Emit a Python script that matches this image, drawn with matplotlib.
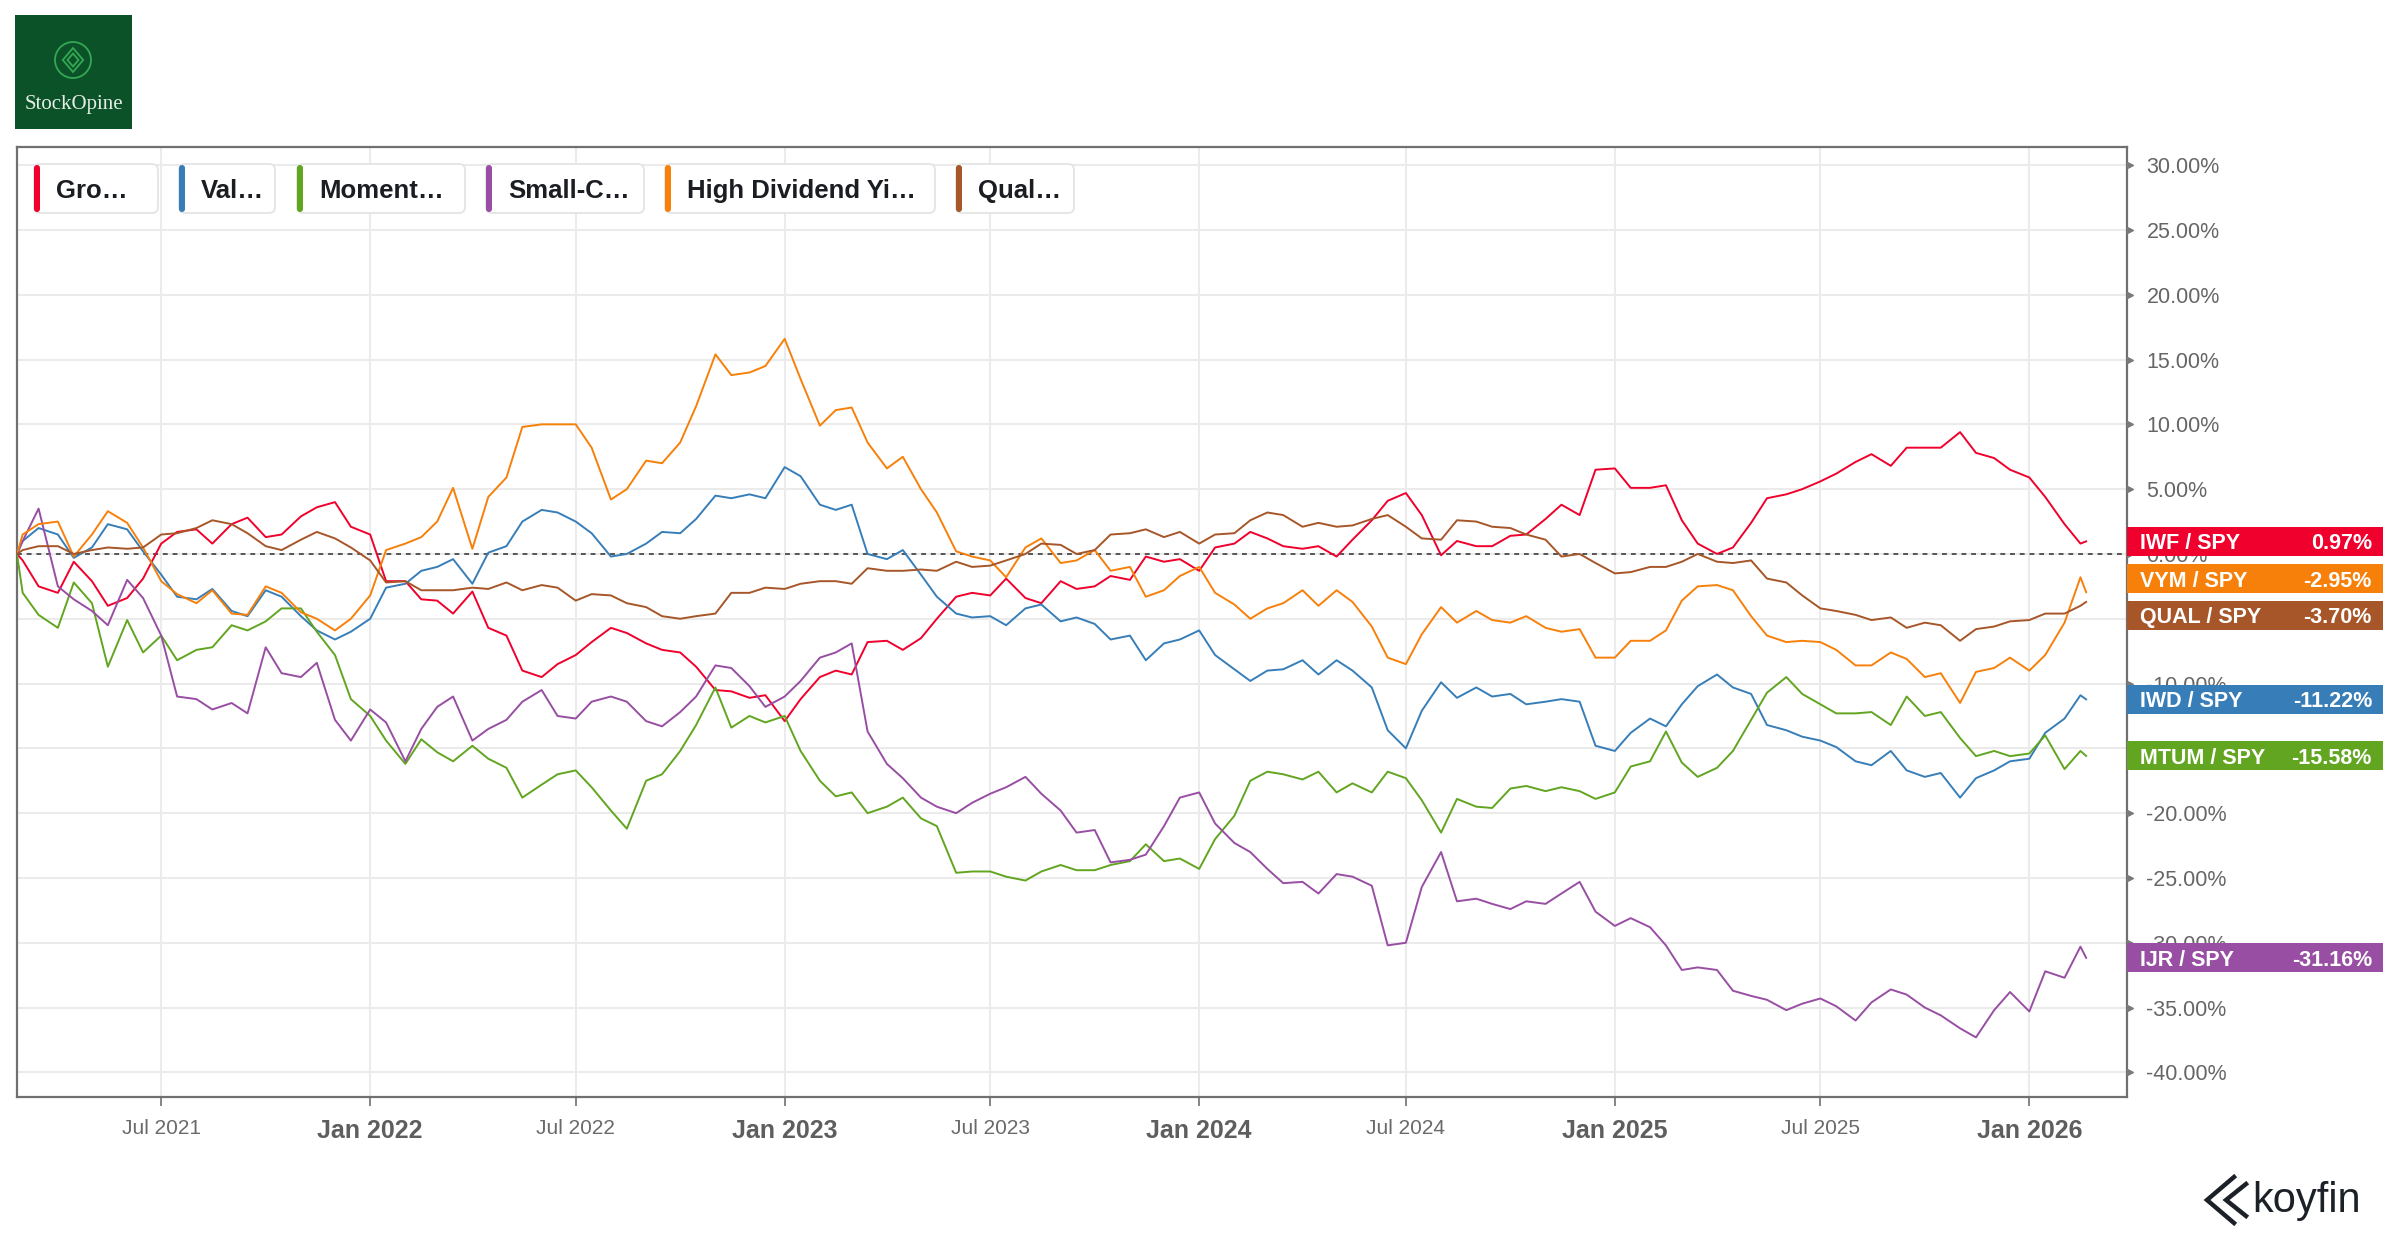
import matplotlib
matplotlib.use('Agg')
import matplotlib.pyplot as plt
from matplotlib.patches import Rectangle, FancyBboxPatch, Circle, Polygon
from matplotlib.lines import Line2D
from matplotlib.transforms import blended_transform_factory, IdentityTransform
import numpy as np
import pandas as pd

plt.rcParams['font.family'] = ['Liberation Sans', 'DejaVu Sans']

W, H = 2400, 1240

# sample dates: start of chart, then 1st / 15th of each month, then last close
dates = pd.to_datetime(['2021-02-24']
                       + list(pd.date_range('2021-03-01', '2026-02-15', freq='SMS').strftime('%Y-%m-%d'))
                       + ['2026-02-20'])

# relative performance vs SPY, % (one row per year)
growth = [0.0, -0.5, -2.5, -3.0, -0.6, -2.1, -4.0, -3.4, -1.9, 0.8, 1.7, 1.9, 0.8, 2.3, 2.8, 1.3, 1.5, 2.9, 3.6, 4.0, 2.1,
          1.5, -2.1, -2.1, -3.5, -3.6, -4.6, -2.9, -5.7, -6.3, -9.0, -9.5, -8.5, -7.8, -6.8, -5.7, -6.1, -6.9, -7.4, -7.6, -8.7, -10.5, -10.6, -11.1, -10.9,
          -12.9, -11.2, -9.5, -9.0, -9.3, -6.8, -6.7, -7.4, -6.5, -5.0, -3.3, -3.0, -3.2, -1.9, -3.4, -3.8, -2.1, -2.7, -2.5, -1.7, -2.0, -0.2, -0.6, -0.4,
          -1.3, 0.5, 0.8, 1.7, 1.2, 0.6, 0.4, 0.6, -0.2, 1.1, 2.6, 4.1, 4.7, 3.0, -0.1, 1.0, 0.6, 0.6, 1.4, 1.5, 2.7, 3.8, 3.0, 6.5,
          6.6, 5.1, 5.1, 5.3, 2.6, 0.8, 0.0, 0.5, 2.4, 4.3, 4.6, 5.0, 5.6, 6.2, 7.1, 7.7, 6.8, 8.2, 8.2, 8.2, 9.4, 7.8, 7.4, 6.5,
          5.9, 4.4, 2.3, 0.8, 0.97]
value = [0.0, 1.0, 2.0, 1.5, -0.3, 0.5, 2.3, 1.9, 0.2, -1.6, -3.3, -3.5, -2.7, -4.4, -4.8, -2.8, -3.3, -4.8, -5.9, -6.6, -6.0,
         -5.0, -2.6, -2.3, -1.3, -1.0, -0.4, -2.3, 0.1, 0.6, 2.5, 3.4, 3.2, 2.5, 1.6, -0.2, 0.0, 0.8, 1.7, 1.6, 2.7, 4.5, 4.3, 4.6, 4.3,
         6.7, 6.0, 3.8, 3.4, 3.8, 0.0, -0.4, 0.3, -1.6, -3.3, -4.6, -4.9, -4.8, -5.5, -4.2, -3.9, -5.2, -4.9, -5.4, -6.6, -6.3, -8.2, -6.9, -6.6,
         -5.9, -7.8, -8.9, -9.8, -9.0, -8.9, -8.2, -9.3, -8.2, -9.0, -10.3, -13.6, -15.0, -12.1, -9.9, -11.1, -10.3, -11.0, -10.8, -11.6, -11.4, -11.2, -11.4, -14.8,
         -15.2, -13.8, -12.7, -13.3, -11.6, -10.2, -9.3, -10.3, -10.8, -13.2, -13.6, -14.1, -14.4, -14.9, -16.0, -16.3, -15.2, -16.7, -17.2, -16.9, -18.8, -17.3, -16.7, -16.0,
         -15.8, -13.8, -12.7, -10.9, -11.22]
momentum = [0.0, -3.0, -4.7, -5.7, -2.2, -3.8, -8.7, -5.1, -7.6, -6.3, -8.2, -7.4, -7.2, -5.5, -5.9, -5.2, -4.2, -4.2, -6.0, -7.8, -11.2,
            -12.5, -14.4, -16.2, -14.3, -15.3, -16.0, -14.8, -15.8, -16.5, -18.8, -17.8, -17.0, -16.7, -18.0, -19.8, -21.2, -17.5, -17.0, -15.2, -13.2, -10.3, -13.4, -12.5, -13.0,
            -12.5, -15.2, -17.5, -18.7, -18.4, -20.0, -19.5, -18.8, -20.4, -21.0, -24.6, -24.5, -24.5, -24.9, -25.2, -24.5, -24.0, -24.4, -24.4, -24.0, -23.7, -22.4, -23.7, -23.5,
            -24.3, -22.0, -20.2, -17.5, -16.8, -17.0, -17.4, -16.8, -18.4, -17.7, -18.4, -16.8, -17.3, -19.0, -21.5, -18.9, -19.5, -19.6, -18.1, -17.9, -18.3, -18.0, -18.3, -18.9,
            -18.4, -16.4, -16.0, -13.7, -16.1, -17.2, -16.5, -15.2, -12.8, -10.7, -9.5, -10.8, -11.6, -12.3, -12.3, -12.2, -13.2, -11.0, -12.5, -12.2, -14.2, -15.6, -15.2, -15.6,
            -15.4, -14.0, -16.6, -15.2, -15.58]
small_cap = [0.0, 1.0, 3.5, -2.5, -3.5, -4.4, -5.5, -2.0, -3.4, -6.3, -11.0, -11.2, -12.0, -11.5, -12.3, -7.2, -9.2, -9.5, -8.4, -12.8, -14.4,
             -12.0, -13.0, -16.0, -13.5, -11.8, -11.0, -14.4, -13.5, -12.8, -11.4, -10.5, -12.5, -12.7, -11.4, -11.0, -11.4, -12.9, -13.3, -12.2, -11.0, -8.6, -8.8, -10.2, -11.8,
             -11.0, -9.8, -8.0, -7.6, -6.9, -13.7, -16.2, -17.3, -18.8, -19.5, -20.0, -19.2, -18.5, -18.0, -17.2, -18.5, -19.8, -21.5, -21.3, -23.8, -23.6, -23.2, -21.0, -18.8,
             -18.4, -20.8, -22.3, -23.0, -24.3, -25.4, -25.3, -26.2, -24.7, -24.9, -25.6, -30.2, -30.0, -25.7, -23.0, -26.8, -26.6, -27.0, -27.4, -26.8, -27.0, -26.2, -25.3, -27.6,
             -28.7, -28.1, -28.8, -30.2, -32.1, -31.9, -32.1, -33.7, -34.1, -34.4, -35.2, -34.7, -34.3, -34.9, -36.0, -34.6, -33.6, -34.0, -35.0, -35.6, -36.6, -37.3, -35.2, -33.8,
             -35.3, -32.2, -32.7, -30.3, -31.16]
high_div = [0.0, 1.5, 2.3, 2.5, -0.2, 1.5, 3.3, 2.4, 0.5, -2.1, -3.1, -3.8, -2.8, -4.6, -4.7, -2.5, -3.0, -4.5, -5.0, -5.9, -5.0,
            -3.2, 0.3, 0.8, 1.3, 2.5, 5.1, 0.4, 4.4, 5.9, 9.8, 10.0, 10.0, 10.0, 8.2, 4.2, 5.0, 7.2, 7.0, 8.6, 11.4, 15.4, 13.8, 14.0, 14.5,
            16.6, 13.5, 9.9, 11.1, 11.3, 8.6, 6.6, 7.5, 5.0, 3.2, 0.2, -0.2, -0.5, -1.8, 0.5, 1.2, -0.7, -0.5, 0.3, -1.3, -1.0, -3.3, -2.8, -1.7,
            -1.0, -3.0, -3.9, -5.0, -4.2, -3.8, -2.8, -4.0, -2.8, -3.7, -5.6, -8.0, -8.5, -6.2, -4.1, -5.3, -4.4, -5.1, -5.3, -4.8, -5.7, -6.0, -5.8, -8.0,
            -8.0, -6.7, -6.7, -5.9, -3.6, -2.5, -2.4, -2.8, -4.8, -6.3, -6.8, -6.7, -6.8, -7.4, -8.6, -8.6, -7.6, -8.1, -9.5, -9.2, -11.5, -9.1, -8.8, -8.0,
            -9.0, -7.8, -5.3, -1.8, -2.95]
quality = [0.0, 0.3, 0.6, 0.6, 0.0, 0.3, 0.5, 0.4, 0.5, 1.5, 1.6, 2.0, 2.6, 2.3, 1.6, 0.6, 0.3, 1.1, 1.7, 1.2, 0.5,
           -0.5, -2.2, -2.1, -2.8, -2.8, -2.8, -2.6, -2.7, -2.2, -2.8, -2.4, -2.6, -3.6, -3.1, -3.2, -3.8, -4.1, -4.8, -5.0, -4.8, -4.6, -3.0, -3.0, -2.6,
           -2.7, -2.3, -2.1, -2.1, -2.3, -1.1, -1.3, -1.3, -1.2, -1.3, -0.6, -1.0, -0.9, -0.5, 0.0, 0.8, 0.7, 0.0, 0.3, 1.5, 1.6, 1.9, 1.3, 1.7,
           0.8, 1.5, 1.6, 2.6, 3.2, 3.0, 2.1, 2.4, 2.1, 2.2, 2.7, 3.0, 2.1, 1.2, 1.1, 2.6, 2.5, 2.1, 2.0, 1.5, 1.1, -0.2, 0.0, -0.7,
           -1.5, -1.4, -1.0, -1.0, -0.6, 0.0, -0.6, -0.7, -0.5, -1.9, -2.2, -3.2, -4.2, -4.4, -4.7, -5.1, -4.9, -5.7, -5.3, -5.5, -6.7, -5.8, -5.6, -5.2,
           -5.1, -4.6, -4.6, -4.0, -3.70]

series = [growth, value, momentum, small_cap, high_div, quality]
tickers = ['IWF', 'IWD', 'MTUM', 'IJR', 'VYM', 'QUAL']
legend_labels = ['Gro\u2026', 'Val\u2026', 'Moment\u2026', 'Small-C\u2026', 'High Dividend Yi\u2026', 'Qual\u2026']
colors = ['#f0002c', '#377eb8', '#62a520', '#984ea3', '#f7800a', '#a65628']

y_ticks = list(range(-40, 31, 5))
x_ticks = ['2021-07-01', '2022-01-01', '2022-07-01', '2023-01-01', '2023-07-01',
           '2024-01-01', '2024-07-01', '2025-01-01', '2025-07-01', '2026-01-01']
x_tick_labels = ['Jul 2021', 'Jan 2022', 'Jul 2022', 'Jan 2023', 'Jul 2023',
                 'Jan 2024', 'Jul 2024', 'Jan 2025', 'Jul 2025', 'Jan 2026']


def spread(vals, gap):
    # push end labels apart: overlapping neighbours are grouped and centred on their mean
    order = sorted(range(len(vals)), key=lambda i: -vals[i])
    groups = [[i] for i in order]

    def layout(g):
        c = np.mean([vals[i] for i in g])
        n = len(g)
        return [c + gap * ((n - 1) / 2 - k) for k in range(n)]

    merged = True
    while merged:
        merged = False
        for a in range(len(groups) - 1):
            if layout(groups[a])[-1] - layout(groups[a + 1])[0] < gap:
                groups[a] = groups[a] + groups[a + 1]
                del groups[a + 1]
                merged = True
                break
    pos = {}
    for g in groups:
        for i, p in zip(g, layout(g)):
            pos[i] = p
    return [pos[i] for i in range(len(vals))]


fig = plt.figure(figsize=(W / 100, H / 100), dpi=100)
fig.patch.set_facecolor('white')
ax = fig.add_axes([17 / W, 1 - 1097 / H, (2127 - 17) / W, (1097 - 147) / H])

for vals, col in zip(series, colors):
    ax.plot(dates, vals, color=col, lw=1.4, zorder=3)

ax.axhline(0, color='#555555', lw=1.4, ls=(0, (2.5, 2.5)), zorder=2)

ax.set_xlim(pd.Timestamp('2021-02-24'), pd.Timestamp('2026-03-28'))
ax.set_ylim(-41.9, 31.4)

ax.set_xticks(pd.to_datetime(x_ticks))
ax.set_xticklabels(x_tick_labels)
ax.set_yticks(y_ticks)
ax.set_yticklabels([f'{v:.2f}%' for v in y_ticks])
ax.yaxis.tick_right()

ax.grid(True, color='#ebebeb', lw=1.5, zorder=0)
ax.set_axisbelow(True)

for s in ax.spines.values():
    s.set_color('#707070')
    s.set_linewidth(1.6)

ax.tick_params(axis='x', direction='out', length=6.5, width=1.2, color='#707070', pad=9)
ax.tick_params(axis='y', length=0, pad=14, labelsize=15.5, labelcolor='#666666')
for lab in ax.get_xticklabels():
    if lab.get_text().startswith('Jan'):
        lab.set_fontsize(18)
        lab.set_fontweight('bold')
        lab.set_color('#5e5e5e')
    else:
        lab.set_fontsize(15)
        lab.set_color('#6a6a6a')

# small arrow ticks on the right axis
bt = blended_transform_factory(ax.transAxes, ax.transData)
ax.plot(np.full(len(y_ticks), 1 + 3 / 2110), y_ticks, transform=bt, ls='none',
        marker='>', ms=5, color='#7a7a7a', clip_on=False, zorder=4)

# end-of-line value tags
last_vals = [s[-1] for s in series]
tag_pos = spread(last_vals, 2.8)
box_w = 256 / 2110
box_h = 2.25
for tk, col, v, p in zip(tickers, colors, last_vals, tag_pos):
    ax.add_patch(Rectangle((1.0, p - box_h / 2), box_w, box_h, transform=bt, facecolor=col,
                           edgecolor='none', clip_on=False, zorder=6))
    ax.text(1 + 13 / 2110, p, f'{tk} / SPY', transform=bt, ha='left', va='center_baseline',
            fontsize=15.5, fontweight='bold', color='white', clip_on=False, zorder=7)
    ax.text(1 + 245 / 2110, p, f'{v:.2f}%', transform=bt, ha='right', va='center_baseline',
            fontsize=15.5, fontweight='bold', color='white', clip_on=False, zorder=7)

# legend chips across the top of the plot (left / right edges in pixels)
px = IdentityTransform()
chip_edges = [(34, 158), (179, 275), (297, 465), (486, 644), (665, 935), (956, 1074)]
top, bot = 164, 213
for lab, col, (l, r) in zip(legend_labels, colors, chip_edges):
    fig.patches.append(FancyBboxPatch((l, H - bot), r - l, bot - top,
                                      boxstyle='round,pad=0,rounding_size=6', transform=px,
                                      facecolor='white', edgecolor='#e4e4e4', lw=1.3, zorder=3))
    fig.patches.append(FancyBboxPatch((l, H - bot + 1), 6, bot - top - 2,
                                      boxstyle='round,pad=0,rounding_size=3', transform=px,
                                      facecolor=col, edgecolor='none', zorder=4))
    fig.text((l + 22) / W, 1 - (top + bot) / 2 / H, lab, fontsize=18.5, fontweight='bold',
             color='#1a1d22', ha='left', va='center_baseline', zorder=5)

# StockOpine logo, top left
fig.patches.append(Rectangle((15, H - 129), 117, 114, transform=px, facecolor='#0b5228',
                             edgecolor='none', zorder=2))
cx, cy = 73, H - 60
fig.patches.append(Circle((cx, cy), 18, transform=px, facecolor='none', edgecolor='#34a853',
                          lw=1.3, zorder=3))
for r in (12, 6.5):
    fig.patches.append(Polygon([(cx, cy + r), (cx + r * 0.85, cy), (cx, cy - r), (cx - r * 0.85, cy)],
                               closed=True, transform=px, facecolor='none', edgecolor='#34a853',
                               lw=1.3, zorder=3))
fig.text(73.5 / W, 1 - 105 / H, 'StockOpine', family=['Liberation Serif', 'DejaVu Serif'],
         fontsize=15, color='#e6ede6', ha='center', va='center')

# koyfin mark, bottom right
for pts in ([(2234, 1177), (2207, 1200), (2234, 1223)],
            [(2246, 1184), (2226, 1200), (2246, 1216)]):
    xs = [p[0] for p in pts]
    ys = [H - p[1] for p in pts]
    fig.lines.append(Line2D(xs, ys, transform=px, color='#1c2127', lw=3.2,
                            solid_joinstyle='miter', zorder=3))
fig.text(2252 / W, 1 - 1212 / H, 'koyfin', fontsize=30, color='#1c2127', ha='left',
         va='baseline')

fig.savefig('out.png', dpi=100, facecolor='white')
